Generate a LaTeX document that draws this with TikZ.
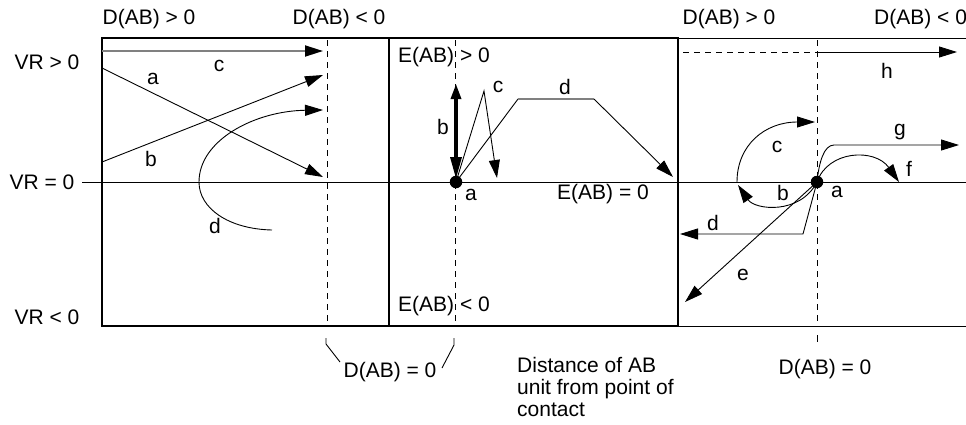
\documentclass[tikz,border=0pt]{standalone}
\usepackage{fontspec}
\setmainfont{Liberation Sans}
\usetikzlibrary{arrows.meta}
\begin{document}
\begin{tikzpicture}[x=1pt,y=-1pt,
  lbl/.style={inner sep=0pt,font=\fontsize{21}{22}\selectfont},
  frame/.style={line width=2.4pt},
  thinline/.style={line width=0.9pt},
  arr/.style={-{Triangle[length=18pt,width=11pt,color=black]}},
  vdash/.style={line width=0.9pt,dash pattern=on 6pt off 5pt},
  greyline/.style={line width=1.8pt,draw=gray},
  dot/.style={circle,fill=black,inner sep=0pt,minimum size=12.5pt}]
\useasboundingbox (0,0) rectangle (966,424);

% frames
\draw[frame] (102,38) rectangle (389,326);
\draw[frame] (389,38) rectangle (678,326);
\draw[thinline] (678,38) -- (966,38);
\draw[thinline] (678,326) -- (966,326);
% VR = 0 axis
\coordinate (ax0) at (82,182);
\coordinate (ax1) at (966,182);
\draw[thinline] (ax0) -- (ax1);

% vertical dashed lines D(AB)=0
\draw[vdash] (327,40) -- (327,326);
\draw[vdash] (455,40) -- (455,326);
\draw[vdash] (817,40) -- (817,326);
\draw[thinline] (326,338) -- (326,344) -- (340,362);
\draw[thinline] (454,338) -- (454,345) -- (442,368);
\draw[thinline] (817,335) -- (817,342);

% top labels
\node[lbl] (t1) at (149,19) {D(AB) > 0};
\node[lbl] (t2) at (339,19) {D(AB) < 0};
\node[lbl] (t3) at (729,19) {D(AB) > 0};
\node[lbl,anchor=west] (t4) at (874,19) {D(AB) < 0};
% side labels
\node[lbl] (vr1) at (47,62) {VR > 0};
\node[lbl] (vr2) at (42,182) {VR = 0};
\node[lbl] (vr3) at (47,317) {VR < 0};
% bottom labels
\node[lbl] (dz1) at (390,372) {D(AB) = 0};
\node[lbl] (dz2) at (825,369) {D(AB) = 0};
\node[lbl,anchor=north west,align=left,font=\fontsize{21}{22}\selectfont] (dist) at (517,357) {Distance of AB\\unit from point of\\contact};
% E labels
\node[lbl,anchor=west] (e1) at (398,57) {E(AB) > 0};
\node[lbl,anchor=west] (e2) at (557,194) {E(AB) = 0};
\node[lbl,anchor=west] (e3) at (398,306) {E(AB) < 0};

% ---------- left panel ----------
\coordinate (lc0) at (102,51);  \coordinate (lc1) at (323,51);
\coordinate (la0) at (102,68);  \coordinate (la1) at (323,177);
\coordinate (lb0) at (102,162); \coordinate (lb1) at (323,75);
\coordinate (ld0) at (272,230); \coordinate (ldm) at (199,182); \coordinate (ld1) at (323,110);
\draw[greyline,arr] (lc0) -- (lc1);
\draw[thinline,arr] (la0) -- (la1);
\draw[thinline,arr] (lb0) -- (lb1);
\draw[thinline,arr] (ld0) .. controls (228,229) and (199,208) .. (ldm)
  .. controls (199,140) and (255,111) .. (ld1);
\node[lbl] (lcl) at (219,66) {c};
\node[lbl] (lal) at (153,79) {a};
\node[lbl] (lbl) at (151,159) {b};
\node[lbl] (ldl) at (215,226) {d};

% ---------- middle panel ----------
\node[dot] (ma) at (456,182) {};
\node[lbl] (mal) at (471,195) {a};
\coordinate (mb0) at (456,84); \coordinate (mb1) at (456,179);
\draw[line width=3.2pt,{Triangle[length=15pt,width=10pt]}-{Triangle[length=22pt,width=11pt]}] (mb0) -- (mb1);
\node[lbl] (mbl) at (443,127) {b};
\coordinate (mc1) at (484,91); \coordinate (mc2) at (497,178);
\draw[thinline,arr] (ma.center) -- (mc1) -- (mc2);
\node[lbl] (mcl) at (498,87) {c};
\coordinate (md1) at (518,99); \coordinate (md2) at (594,99); \coordinate (md3) at (673,177);
\draw[thinline] (ma.center) -- (md1);
\draw[greyline] (md1) -- (md2);
\draw[thinline,arr] (md2) -- (md3);
\node[lbl] (mdl) at (565,87) {d};

% ---------- right panel ----------
\node[dot] (ra) at (817,182) {};
\node[lbl] (ral) at (837,192) {a};
\coordinate (rh0) at (683,52); \coordinate (rh1) at (817,52); \coordinate (rh2) at (957,52);
\draw[vdash] (rh0) -- (rh1);
\draw[thinline,arr] (rh1) -- (rh2);
\node[lbl] (rhl) at (887,71) {h};
\coordinate (rg1) at (834,145); \coordinate (rg2) at (959,145);
\draw[thinline,arr] (ra.center) .. controls (819,162) and (824,145) .. (rg1) -- (rg2);
\node[lbl] (rgl) at (900,132) {g};
\coordinate (rf1) at (899,182);
\draw[thinline,arr] (ra.center) .. controls (828,150) and (875,148) .. (rf1);
\node[lbl] (rfl) at (909,169) {f};
\coordinate (rc0) at (737,182); \coordinate (rc1) at (815,122);
\draw[thinline,arr] (rc0) .. controls (737,145) and (765,122) .. (rc1);
\node[lbl] (rcl) at (777,147) {c};
\coordinate (rb1) at (738,185);
\draw[thinline,arr] (ra.center) .. controls (800,215) and (755,210) .. (rb1);
\node[lbl] (rbl) at (783,193) {b};
\coordinate (rd1) at (803,234); \coordinate (rd2) at (680,234);
\draw[thinline,arr] (ra.center) -- (rd1) -- (rd2);
\node[lbl] (rdl) at (713,223) {d};
\coordinate (re1) at (685,302);
\draw[thinline,arr] (ra.center) -- (re1);
\node[lbl] (rel) at (743,275) {e};
\end{tikzpicture}
\end{document}
